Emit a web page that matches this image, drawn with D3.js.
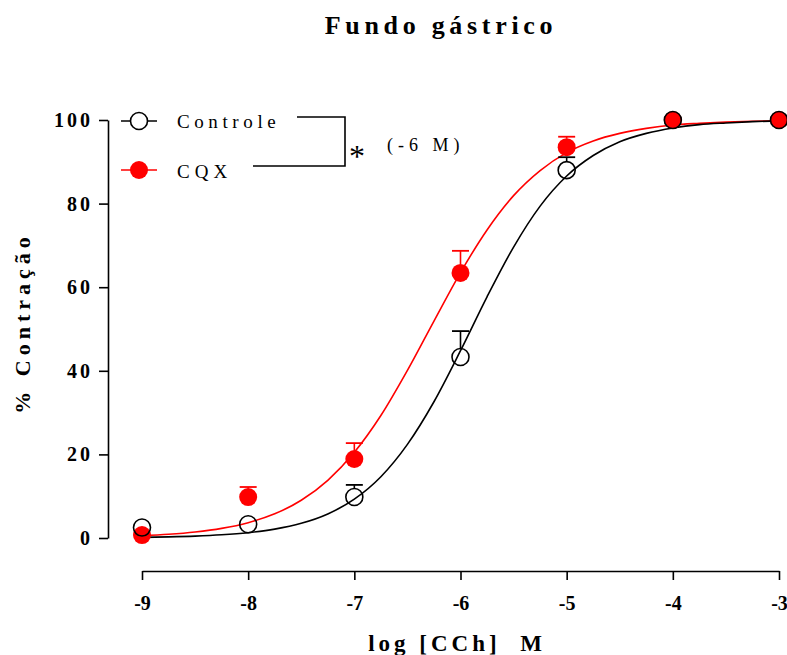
<!DOCTYPE html>
<html>
<head>
<meta charset="utf-8">
<script src="https://cdn.jsdelivr.net/npm/d3@7"></script>
<style>
  body { margin: 0; background: #fff; }
  svg { display: block; }
  text { font-family: "Liberation Serif", "Times New Roman", serif; }
</style>
</head>
<body>
<svg id="chart" width="787" height="655"></svg>
<script>
// ---- data ----
const doses = [-9, -8, -7, -6, -5, -4, -3];
const controleMean = [2.5, 3.3, 9.8, 43.3, 88.0, 100, 100];
const controleSem  = [0, 0, 2.9, 6.2, 3.1, 0, 0];
const cqxMean = [0.7, 9.8, 18.9, 63.4, 93.5, 100, 100];
const cqxSem  = [0, 2.4, 3.8, 5.3, 2.5, 0, 0];

// fitted curves
const curveX = [-9, -8.75, -8.5, -8.25, -8, -7.75, -7.5, -7.25, -7, -6.75, -6.5, -6.25, -6,
                -5.75, -5.5, -5.25, -5, -4.75, -4.5, -4.25, -4, -3.75, -3.5, -3.25, -3];
const controleCurve = [0.16, 0.27, 0.45, 0.76, 1.27, 2.12, 3.51, 5.75, 9.29, 14.66, 22.4, 32.6, 44.8,
                       57.7, 69.6, 79.4, 86.6, 91.5, 94.8, 96.8, 98.1, 98.9, 99.3, 99.6, 99.8];
const cqxCurve = [0.56, 0.90, 1.44, 2.30, 3.67, 5.78, 9.02, 13.8, 20.5, 29.3, 40.1, 51.9, 63.5,
                  73.7, 81.9, 87.9, 92.2, 95.0, 96.8, 98.0, 98.8, 99.2, 99.5, 99.7, 99.8];

const xTicks = [-9, -8, -7, -6, -5, -4, -3];
const xTickLabels = ["-9", "-8", "-7", "-6", "-5", "-4", "-3"];
const yTicks = [0, 20, 40, 60, 80, 100];

const title = "Fundo gástrico";
const xTitle = "log [CCh]  M";
const yTitle = "% Contração";
const seriesNames = ["Controle", "CQX"];
const sigText = "(-6 M)";

// ---- drawing ----
const svg = d3.select("#chart");
const x = d3.scaleLinear().domain([-9, -3]).range([142, 779]);
const y = d3.scaleLinear().domain([0, 100]).range([538, 120]);
const R = 8.5;

// title
svg.append("text").attr("x", 441).attr("y", 34).attr("text-anchor", "middle")
  .attr("font-size", 26).attr("font-weight", "bold").attr("letter-spacing", 4.7)
  .text(title);

// y axis
const yAxis = svg.append("g").attr("transform", "translate(108,0)")
  .call(d3.axisLeft(y).tickValues(yTicks).tickSize(9).tickSizeOuter(0).tickPadding(6));
yAxis.select(".domain").attr("stroke-width", 1.6);
yAxis.selectAll(".tick line").attr("stroke-width", 1.6);
yAxis.selectAll(".tick text").attr("font-family", '"Liberation Serif", serif')
  .attr("font-size", 20).attr("font-weight", "bold").attr("letter-spacing", 3).attr("fill", "#000");

// x axis
const xAxis = svg.append("g").attr("transform", "translate(0,571)")
  .call(d3.axisBottom(x).tickValues(xTicks).tickSize(9).tickSizeOuter(0).tickPadding(16)
    .tickFormat((d, i) => xTickLabels[i]));
xAxis.select(".domain").attr("stroke-width", 1.6);
xAxis.selectAll(".tick line").attr("stroke-width", 1.6);
xAxis.selectAll(".tick text").attr("font-family", '"Liberation Serif", serif')
  .attr("font-size", 20).attr("font-weight", "bold").attr("fill", "#000");

// axis titles
svg.append("text").attr("x", 457).attr("y", 651).attr("text-anchor", "middle")
  .attr("font-size", 23).attr("font-weight", "bold").attr("letter-spacing", 4)
  .attr("xml:space", "preserve").style("white-space", "pre")
  .text(xTitle);
svg.append("text").attr("transform", "translate(30,323) rotate(-90)").attr("text-anchor", "middle")
  .attr("font-size", 22).attr("font-weight", "bold").attr("letter-spacing", 5)
  .text(yTitle);

// curves
const line = d3.line().x(d => x(d[0])).y(d => y(d[1])).curve(d3.curveMonotoneX);
svg.append("path").datum(d3.zip(curveX, cqxCurve)).attr("d", line)
  .attr("fill", "none").attr("stroke", "#ff0000").attr("stroke-width", 1.6);
svg.append("path").datum(d3.zip(curveX, controleCurve)).attr("d", line)
  .attr("fill", "none").attr("stroke", "#000").attr("stroke-width", 1.6);

function drawSeries(means, sems, color, filled) {
  const g = svg.append("g");
  doses.forEach((d, i) => {
    if (sems[i] > 0) {
      const top = y(means[i] + sems[i]);
      const base = y(means[i]) - R;
      if (base > top) {
        g.append("line").attr("x1", x(d)).attr("x2", x(d)).attr("y1", base).attr("y2", top)
          .attr("stroke", color).attr("stroke-width", 1.6);
      }
      g.append("line").attr("x1", x(d) - 8.5).attr("x2", x(d) + 8.5).attr("y1", top).attr("y2", top)
        .attr("stroke", color).attr("stroke-width", 1.8);
    }
  });
  g.selectAll("circle").data(doses).join("circle")
    .attr("cx", d => x(d)).attr("cy", (d, i) => y(means[i])).attr("r", filled ? R + 0.5 : R)
    .attr("fill", filled ? color : "none")
    .attr("stroke", filled ? "none" : color).attr("stroke-width", 1.6);
}
drawSeries(cqxMean, cqxSem, "#ff0000", true);
drawSeries(controleMean, controleSem, "#000", false);

// legend
const leg = svg.append("g");
leg.append("line").attr("x1", 121).attr("x2", 157).attr("y1", 121).attr("y2", 121).attr("stroke", "#000").attr("stroke-width", 1.6);
leg.append("circle").attr("cx", 139).attr("cy", 121).attr("r", R).attr("fill", "#fff").attr("stroke", "#000").attr("stroke-width", 1.6);
leg.append("line").attr("x1", 121).attr("x2", 157).attr("y1", 170).attr("y2", 170).attr("stroke", "#ff0000").attr("stroke-width", 1.6);
leg.append("circle").attr("cx", 139).attr("cy", 170).attr("r", R + 0.5).attr("fill", "#ff0000");
leg.append("text").attr("x", 177).attr("y", 128).attr("font-size", 19).attr("letter-spacing", 4.6).text(seriesNames[0]);
leg.append("text").attr("x", 177).attr("y", 178).attr("font-size", 19).attr("letter-spacing", 5).text(seriesNames[1]);

// significance bracket
leg.append("path").attr("d", "M297,117 H345 V166 H253").attr("fill", "none").attr("stroke", "#000").attr("stroke-width", 1.6);
leg.append("text").attr("x", 357).attr("y", 167).attr("text-anchor", "middle").attr("font-size", 32).text("*");
leg.append("text").attr("x", 387).attr("y", 151).attr("font-size", 18).attr("letter-spacing", 5).text(sigText);
</script>
</body>
</html>
